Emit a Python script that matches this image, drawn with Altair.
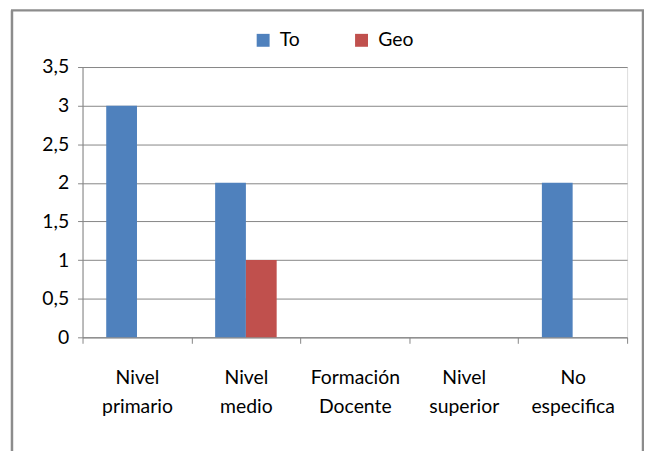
import altair as alt
import pandas as pd

categories = ["Nivel primario", "Nivel medio", "Formación Docente", "Nivel superior", "No especifica"]
series = ["To", "Geo"]
to_vals = [3, 2, 0, 0, 2]
geo_vals = [0, 1, 0, 0, 0]
y_ticks = [0, 0.5, 1, 1.5, 2, 2.5, 3, 3.5]

rows = []
for c, t, g in zip(categories, to_vals, geo_vals):
    rows.append({"cat": c, "serie": "To", "val": t})
    rows.append({"cat": c, "serie": "Geo", "val": g})
df = pd.DataFrame(rows)

FONT = "Lato"
FS = 19.5
GRAY = "#868686"

bars = alt.Chart(df).mark_bar().encode(
    x=alt.X("cat:N", sort=categories, title=None,
            scale=alt.Scale(paddingInner=0, paddingOuter=0),
            axis=alt.Axis(labelAngle=0, labelExpr="split(datum.label, ' ')",
                          labelLineHeight=30, labelFontSize=FS, labelFont=FONT,
                          labelColor="#000000", labelPadding=25, tickBand="extent",
                          tickSize=6, tickColor=GRAY, domainColor=GRAY,
                          labelBaseline="top", grid=False)),
    xOffset=alt.XOffset("serie:N", sort=series,
                        scale=alt.Scale(paddingInner=0, paddingOuter=0.77)),
    y=alt.Y("val:Q", title=None,
            scale=alt.Scale(domain=[0, 3.5], nice=False),
            axis=alt.Axis(values=y_ticks,
                          labelExpr="replace(format(datum.value, '~g'), '.', ',')",
                          labelFontSize=FS, labelFont=FONT, labelColor="#000000",
                          labelPadding=9, tickSize=5, tickColor=GRAY, domainColor=GRAY,
                          gridColor=GRAY, gridOpacity=1)),
    color=alt.Color("serie:N", sort=series,
                    scale=alt.Scale(domain=series, range=["#4F81BD", "#C0504D"]),
                    legend=alt.Legend(title=None, orient="none", direction="horizontal",
                                      legendX=172, legendY=-37, symbolType="square",
                                      symbolSize=169, symbolStrokeWidth=0,
                                      labelFontSize=FS, labelFont=FONT, labelColor="#000000",
                                      labelOffset=7, columnPadding=52)),
)

frame_data = alt.Data(values=[{"a": 1}])
left = alt.Chart(frame_data).mark_rule(color="#8c8c8c", strokeWidth=2.5).encode(
    x=alt.value(-71), y=alt.value(-57), y2=alt.value(400))
right = alt.Chart(frame_data).mark_rule(color="#8c8c8c", strokeWidth=2.5).encode(
    x=alt.value(564), y=alt.value(-57), y2=alt.value(400))
top = alt.Chart(frame_data).mark_rule(color="#8c8c8c", strokeWidth=2.5).encode(
    x=alt.value(-72), x2=alt.value(565), y=alt.value(-57))

chart = alt.layer(bars, left, right, top).properties(
    width=548, height=272,
    autosize=alt.AutoSizeParams(type="none"),
    padding={"left": 75, "top": 58, "right": 17, "bottom": 113},
).configure_view(stroke=None).configure(background="white")

chart.save("out.html", embed_options={"renderer": "svg", "actions": False})
